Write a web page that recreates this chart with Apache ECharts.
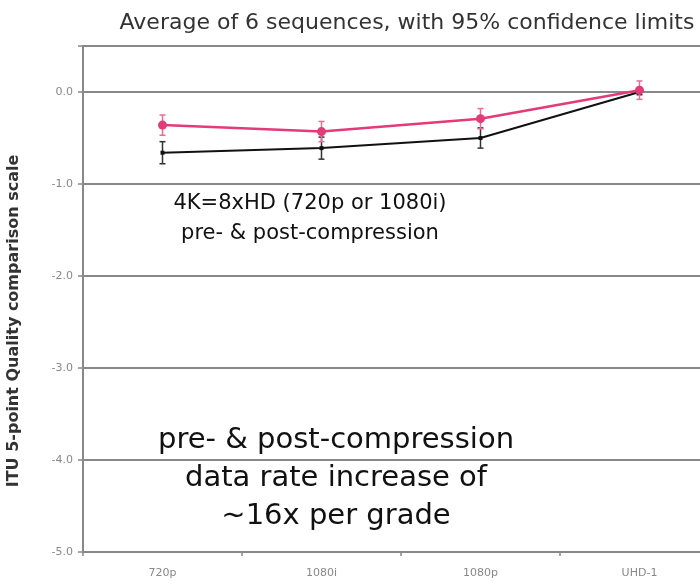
<!DOCTYPE html>
<html>
<head>
<meta charset="utf-8">
<script src="https://cdn.jsdelivr.net/npm/echarts@6/dist/echarts.min.js"></script>
<style>
  html, body { margin: 0; padding: 0; background: #fff; }
  #chart { width: 700px; height: 587px; }
</style>
</head>
<body>
<div id="chart"></div>
<script>
// categories and values
var categories = ["720p", "1080i", "1080p", "UHD-1"];
var pinkMean = [-0.36, -0.43, -0.29, 0.02];
var pinkCI = [0.11, 0.11, 0.11, 0.1];
var blackMean = [-0.66, -0.61, -0.5, 0.0];
var blackCI = [0.12, 0.12, 0.11, 0.03];
var yTicks = [0, -1, -2, -3, -4, -5];

function errData(mean, ci) {
  return mean.map(function (m, i) {
    return [i, m - ci[i], m + ci[i]];
  });
}

function errorBars(color) {
  return function (params, api) {
    var lo = api.coord([api.value(0), api.value(1)]);
    var hi = api.coord([api.value(0), api.value(2)]);
    var w = 3;
    var style = { stroke: color, lineWidth: 1.5 };
    return {
      type: "group",
      children: [
        { type: "line", shape: { x1: lo[0], y1: lo[1], x2: hi[0], y2: hi[1] }, style: style },
        { type: "line", shape: { x1: lo[0] - w, y1: lo[1], x2: lo[0] + w, y2: lo[1] }, style: style },
        { type: "line", shape: { x1: hi[0] - w, y1: hi[1], x2: hi[0] + w, y2: hi[1] }, style: style },
      ],
    };
  };
}

var myChart = echarts.init(document.getElementById("chart"));
var option = {
  backgroundColor: "#fff",
  animation: false,
  title: {
    text: "Average of 6 sequences, with 95% confidence limits",
    left: 402,
    textAlign: "center",
    top: 7,
    textStyle: {
      fontFamily: "DejaVu Sans",
      fontWeight: "normal",
      fontSize: 22,
      color: "#333",
    },
  },
  grid: {
    left: 83,
    top: 46,
    width: 636,
    bottom: 35,
    containLabel: false,
    outerBoundsMode: "none",
  },
  xAxis: {
    type: "category",
    data: categories,
    boundaryGap: true,
    axisLine: { show: false, onZero: false },
    axisTick: {
      show: true,
      length: 4,
      lineStyle: { color: "#888", width: 1.5 },
    },
    axisLabel: {
      color: "#888",
      fontFamily: "DejaVu Sans",
      fontSize: 11,
      margin: 16,
    },
  },
  yAxis: {
    type: "value",
    min: -5,
    max: 0.5,
    interval: 1,
    axisLine: { show: true, lineStyle: { color: "#888", width: 2 } },
    axisTick: { show: true, length: 5, lineStyle: { color: "#888", width: 1.5 } },
    axisLabel: {
      color: "#888",
      fontFamily: "DejaVu Sans",
      fontSize: 11,
      margin: 10,
      formatter: function (v) {
        return yTicks.indexOf(v) >= 0 ? v.toFixed(1) : "";
      },
    },
    splitLine: { show: true, lineStyle: { color: "#888", width: 2 } },
  },
  graphic: [
    {
      type: "line",
      shape: { x1: 83, y1: 46, x2: 700, y2: 46 },
      style: { stroke: "#999", lineWidth: 1.5 },
    },
    {
      type: "text",
      x: 14,
      y: 321,
      rotation: Math.PI / 2,
      style: {
        text: "ITU 5-point Quality comparison scale",
        textAlign: "center",
        textVerticalAlign: "middle",
        font: "bold 16px 'DejaVu Sans'",
        fill: "#333",
      },
    },
    {
      type: "text",
      style: {
        x: 310,
        y: 189,
        text: "4K=8xHD (720p or 1080i)\npre- & post-compression",
        textAlign: "center",
        font: "21px 'DejaVu Sans'",
        lineHeight: 30,
        fill: "#111",
      },
    },
    {
      type: "text",
      style: {
        x: 336,
        y: 421,
        text: "pre- & post-compression\ndata rate increase of\n~16x per grade",
        textAlign: "center",
        font: "29px 'DejaVu Sans'",
        lineHeight: 38,
        fill: "#111",
      },
    },
  ],
  series: [
    {
      name: "black",
      type: "line",
      data: blackMean,
      symbol: "rect",
      symbolSize: 4,
      lineStyle: { color: "#111", width: 2 },
      itemStyle: { color: "#111" },
      z: 3,
    },
    {
      name: "black CI",
      type: "custom",
      data: errData(blackMean, blackCI),
      renderItem: errorBars("#333"),
      z: 3,
    },
    {
      name: "pink",
      type: "line",
      data: pinkMean,
      symbol: "circle",
      symbolSize: 9,
      lineStyle: { color: "#e33a78", width: 2.5 },
      itemStyle: { color: "#e33a78" },
      z: 4,
    },
    {
      name: "pink CI",
      type: "custom",
      data: errData(pinkMean, pinkCI),
      renderItem: errorBars("#ea6b98"),
      z: 4,
    },
  ],
};
myChart.setOption(option);
window.addEventListener("resize", function () {
  myChart.resize();
});
</script>
</body>
</html>
